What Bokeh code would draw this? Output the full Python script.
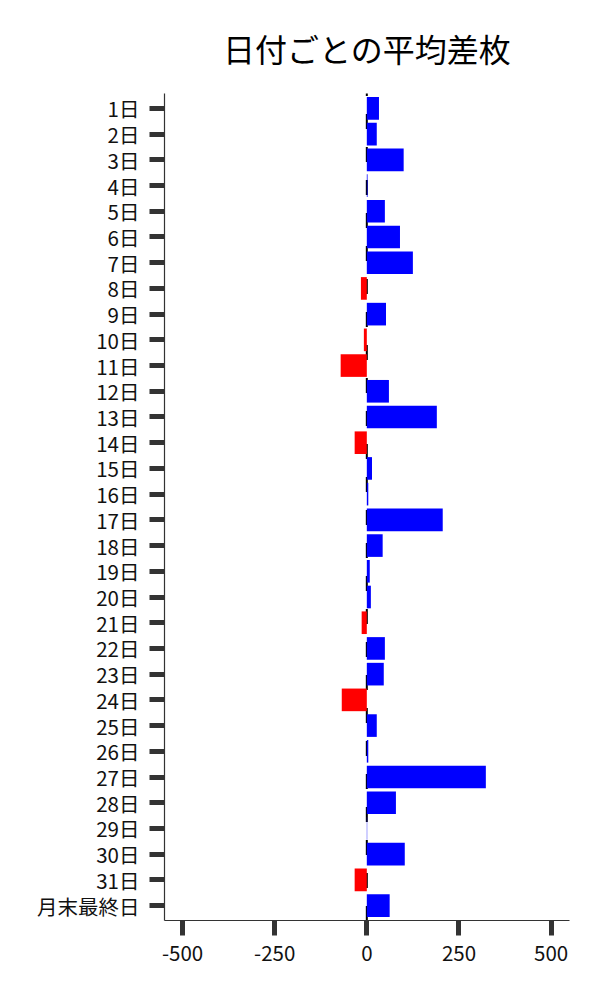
from bokeh.plotting import figure
from bokeh.models import FactorRange, Range1d, FixedTicker, ColumnDataSource
from bokeh.embed import file_html
from bokeh.resources import INLINE

# ---- data ----
days = ["1日", "2日", "3日", "4日", "5日", "6日", "7日", "8日", "9日", "10日",
        "11日", "12日", "13日", "14日", "15日", "16日", "17日", "18日", "19日", "20日",
        "21日", "22日", "23日", "24日", "25日", "26日", "27日", "28日", "29日", "30日",
        "31日", "月末最終日"]
avg_diff = [33, 27, 100, 2, 49, 90, 125, -16, 52, -8,
            -71, 60, 190, -33, 14, 4, 206, 43, 8, 11,
            -14, 49, 46, -68, 27, 4, 323, 79, 1, 103,
            -33, 62]
x_ticks = [-500, -250, 0, 250, 500]
x_tick_labels = ["-500", "-250", "0", "250", "500"]
title_text = "日付ごとの平均差枚"

POS_COLOR = "#0000ff"
NEG_COLOR = "#ff0000"
FONT = "Noto Sans CJK JP"

colors = [POS_COLOR if v >= 0 else NEG_COLOR for v in avg_diff]
src = ColumnDataSource(dict(day=days, val=avg_diff, color=colors))

yr = FactorRange(factors=list(reversed(days)), range_padding=0.005,
                 range_padding_units="percent")
p = figure(width=592, height=992, y_range=yr, x_range=Range1d(-549, 550),
           output_backend="svg", toolbar_location=None,
           min_border_left=164, min_border_right=23,
           min_border_top=92, min_border_bottom=72)

p.title.text = title_text
p.title.text_font = FONT
p.title.text_font_size = "32px"
p.title.text_font_style = "normal"
p.title.text_color = "black"
p.title.align = "center"
p.title.standoff = 45

# dashed zero line (drawn from the bottom upward)
p.segment(x0=[0], y0=[(days[-1], -0.6)], x1=[0], y1=[(days[0], 0.6)],
          line_color="black", line_width=2, line_dash="15 18")

p.hbar(y="day", right="val", left=0, height=0.88, color="color",
       line_color=None, source=src)

p.outline_line_color = None
p.grid.grid_line_color = None
p.background_fill_color = "white"
p.border_fill_color = "white"

for ax in (p.xaxis[0], p.yaxis[0]):
    ax.axis_line_color = "#333333"
    ax.axis_line_width = 1.2
    ax.major_tick_line_color = "#333333"
    ax.major_tick_line_width = 5
    ax.major_tick_out = 15
    ax.major_tick_in = 0
    ax.minor_tick_line_color = None
    ax.major_label_text_font = FONT
    ax.major_label_text_font_size = "20.5px"
    ax.major_label_text_color = "#111111"

p.yaxis.major_label_standoff = 10
p.xaxis.major_label_standoff = 10
p.xaxis.ticker = FixedTicker(ticks=x_ticks)
p.xaxis.major_label_overrides = {t: s for t, s in zip(x_ticks, x_tick_labels)}

open("out.html", "w").write(file_html(p, INLINE))
